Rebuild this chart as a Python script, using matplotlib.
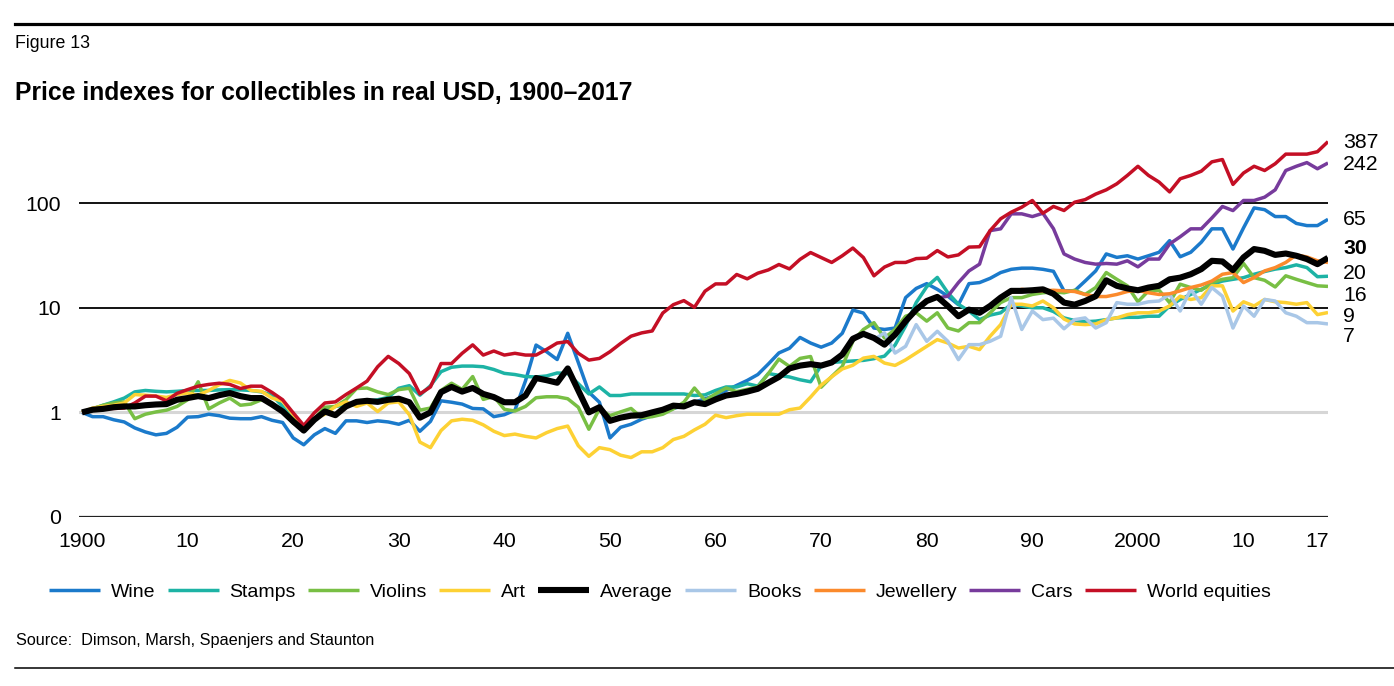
import numpy as np
import matplotlib
matplotlib.use("Agg")
import matplotlib.pyplot as plt
from matplotlib import font_manager
from matplotlib.lines import Line2D
from matplotlib.ticker import NullLocator

# ==================================================================
# Data: real USD price index at each year end (end-1899 = 1)
# ==================================================================
first_year = 1899
last_year = 2017

wine = [
    1.00, 0.91, 0.91, 0.85, 0.81, 0.71, 0.65, 0.61, 0.63, 0.72,
    0.90, 0.91, 0.96, 0.93, 0.88, 0.87, 0.87, 0.91, 0.84, 0.80,
    0.57, 0.49, 0.61, 0.70, 0.63, 0.83, 0.83, 0.80, 0.83, 0.81,
    0.77, 0.84, 0.66, 0.82, 1.29, 1.25, 1.20, 1.09, 1.08, 0.91,
    0.95, 1.05, 2.00, 4.40, 3.80, 3.20, 5.70, 3.00, 1.56, 1.25,
    0.57, 0.72, 0.77, 0.86, 0.93, 1.02, 1.09, 1.16, 1.25, 1.35,
    1.45, 1.62, 1.81, 2.02, 2.30, 2.90, 3.70, 4.10, 5.20, 4.60,
    4.20, 4.60, 5.70, 9.50, 8.90, 6.40, 6.20, 6.40, 12.5, 15.3,
    17.0, 15.0, 12.9, 10.7, 17.0, 17.4, 19.1, 21.7, 23.3, 23.9,
    23.9, 23.3, 22.3, 14.5, 14.5, 18.0, 22.5, 32.7, 30.3, 31.4,
    29.2, 31.4, 33.9, 43.8, 30.7, 33.9, 42.3, 56.8, 56.8, 36.4,
    58.0, 90.0, 86.6, 74.4, 74.4, 64.0, 61.0, 61.0, 70.0,
]
stamps = [
    1.00, 1.08, 1.17, 1.26, 1.37, 1.57, 1.62, 1.59, 1.57, 1.59,
    1.62, 1.62, 1.62, 1.64, 1.65, 1.64, 1.62, 1.57, 1.46, 1.14,
    0.87, 0.68, 0.87, 1.06, 1.14, 1.18, 1.23, 1.28, 1.32, 1.39,
    1.70, 1.80, 1.46, 1.80, 2.45, 2.70, 2.77, 2.77, 2.73, 2.57,
    2.36, 2.30, 2.20, 2.18, 2.23, 2.38, 2.35, 1.88, 1.50, 1.75,
    1.45, 1.45, 1.50, 1.50, 1.50, 1.50, 1.50, 1.50, 1.45, 1.47,
    1.62, 1.75, 1.75, 1.88, 1.78, 2.35, 2.26, 2.18, 2.05, 1.96,
    2.80, 3.00, 3.05, 3.10, 3.14, 3.26, 3.45, 4.40, 6.70, 11.2,
    15.9, 19.5, 13.9, 10.8, 9.30, 7.70, 8.50, 8.95, 10.8, 10.4,
    10.0, 10.0, 9.20, 8.00, 7.55, 7.35, 7.45, 7.70, 8.00, 8.10,
    8.10, 8.30, 8.30, 10.4, 12.0, 13.4, 15.0, 16.7, 18.0, 18.7,
    19.4, 20.9, 22.2, 23.4, 24.2, 25.7, 24.2, 19.8, 20.0,
]
violins = [
    1.00, 1.08, 1.17, 1.23, 1.26, 0.87, 0.96, 1.01, 1.05, 1.14,
    1.32, 1.96, 1.08, 1.23, 1.37, 1.17, 1.20, 1.32, 1.23, 1.02,
    0.79, 0.70, 0.87, 1.12, 1.14, 1.32, 1.69, 1.71, 1.57, 1.48,
    1.65, 1.70, 1.05, 1.10, 1.62, 1.90, 1.66, 2.20, 1.33, 1.42,
    1.07, 1.03, 1.14, 1.38, 1.41, 1.41, 1.35, 1.12, 0.69, 1.08,
    0.93, 1.01, 1.09, 0.89, 0.91, 0.96, 1.08, 1.25, 1.71, 1.30,
    1.50, 1.71, 1.58, 1.66, 1.75, 2.35, 3.23, 2.75, 3.28, 3.42,
    1.74, 2.20, 2.75, 4.78, 6.20, 7.20, 5.14, 6.20, 8.30, 8.95,
    7.45, 8.95, 6.40, 6.00, 7.20, 7.20, 8.95, 11.2, 12.5, 12.5,
    13.4, 13.9, 14.2, 13.9, 14.7, 13.4, 15.6, 21.7, 18.7, 16.2,
    11.4, 14.5, 14.7, 11.2, 16.8, 15.6, 14.7, 17.4, 18.7, 19.4,
    26.5, 19.4, 18.3, 15.8, 20.2, 18.7, 17.4, 16.2, 16.0,
]
art = [
    1.00, 1.10, 1.14, 1.17, 1.23, 1.48, 1.46, 1.43, 1.39, 1.48,
    1.53, 1.46, 1.62, 1.84, 2.02, 1.91, 1.62, 1.59, 1.37, 1.28,
    0.95, 0.73, 0.87, 0.96, 1.14, 1.26, 1.14, 1.23, 1.02, 1.23,
    1.26, 0.95, 0.52, 0.46, 0.67, 0.83, 0.86, 0.84, 0.76, 0.66,
    0.60, 0.62, 0.59, 0.57, 0.64, 0.70, 0.74, 0.48, 0.38, 0.46,
    0.44, 0.39, 0.37, 0.42, 0.42, 0.46, 0.55, 0.59, 0.68, 0.77,
    0.94, 0.89, 0.93, 0.96, 0.96, 0.96, 0.96, 1.06, 1.10, 1.40,
    1.82, 2.19, 2.60, 2.82, 3.30, 3.43, 2.96, 2.81, 3.18, 3.69,
    4.28, 4.96, 4.60, 4.12, 4.28, 3.98, 5.34, 6.90, 10.8, 10.8,
    10.4, 11.6, 10.0, 7.80, 7.00, 6.90, 7.00, 7.70, 8.00, 8.60,
    8.95, 8.95, 9.30, 10.4, 12.9, 12.0, 12.5, 16.2, 16.2, 9.30,
    11.4, 10.4, 12.0, 11.4, 11.2, 10.8, 11.2, 8.60, 9.00,
]
average = [
    1.00, 1.06, 1.08, 1.12, 1.14, 1.14, 1.17, 1.19, 1.20, 1.32,
    1.37, 1.43, 1.37, 1.46, 1.53, 1.43, 1.37, 1.37, 1.19, 1.02,
    0.82, 0.67, 0.85, 1.02, 0.94, 1.14, 1.26, 1.29, 1.26, 1.32,
    1.35, 1.25, 0.89, 1.00, 1.56, 1.75, 1.58, 1.71, 1.50, 1.40,
    1.25, 1.25, 1.45, 2.13, 2.03, 1.92, 2.63, 1.62, 1.00, 1.12,
    0.83, 0.89, 0.93, 0.94, 1.00, 1.06, 1.16, 1.14, 1.25, 1.20,
    1.33, 1.45, 1.50, 1.58, 1.68, 1.92, 2.18, 2.63, 2.80, 2.89,
    2.80, 3.00, 3.57, 5.05, 5.63, 5.14, 4.44, 5.54, 7.45, 9.60,
    11.6, 12.7, 10.4, 8.30, 9.60, 8.95, 10.4, 12.5, 14.5, 14.5,
    14.7, 15.0, 13.6, 11.2, 10.7, 11.6, 12.9, 18.3, 16.2, 15.3,
    14.7, 15.6, 16.2, 18.7, 19.4, 20.9, 23.4, 28.1, 27.7, 22.9,
    30.3, 36.4, 35.0, 32.0, 33.0, 31.4, 29.2, 26.1, 30.0,
]
equities = [
    1.00, 1.06, 1.08, 1.09, 1.10, 1.23, 1.43, 1.43, 1.29, 1.52,
    1.65, 1.78, 1.85, 1.90, 1.85, 1.69, 1.78, 1.78, 1.55, 1.32,
    0.99, 0.75, 0.99, 1.23, 1.26, 1.48, 1.71, 1.99, 2.73, 3.43,
    2.93, 2.35, 1.50, 1.75, 2.93, 2.93, 3.67, 4.42, 3.53, 3.86,
    3.53, 3.67, 3.53, 3.53, 4.00, 4.60, 4.75, 3.67, 3.16, 3.28,
    3.80, 4.55, 5.35, 5.75, 6.00, 8.90, 10.7, 11.7, 10.1, 14.4,
    16.9, 16.9, 20.8, 18.9, 21.4, 23.0, 25.9, 23.5, 29.0, 33.7,
    30.2, 27.1, 31.4, 37.2, 30.2, 20.2, 24.5, 27.1, 27.1, 29.5,
    29.8, 35.2, 30.6, 32.0, 38.0, 38.3, 54.6, 70.9, 81.9, 91.5,
    106, 80, 93, 85, 102, 108, 122, 134, 153, 184,
    225, 184, 159, 128, 171, 184, 202, 248, 261, 151,
    194, 225, 205, 238, 294, 294, 294, 310, 387,
]
# shorter histories
books_from = 1974
books = [
    4.96, 5.75, 3.69, 4.28, 6.90, 4.78, 5.96, 4.78, 3.19, 4.44,
    4.44, 4.78, 5.34, 12.5, 6.20, 9.30, 7.70, 7.95, 6.30, 7.70,
    8.00, 6.40, 7.20, 11.2, 10.8, 10.8, 11.4, 11.6, 13.4, 9.30,
    15.0, 10.8, 15.6, 12.9, 6.40, 10.4, 8.30, 12.0, 11.6, 8.95,
    8.30, 7.20, 7.20, 7.00,
]
jewellery_from = 1986
jewellery = [
    12.7, 14.0, 15.0, 14.5, 14.5, 14.7,
    14.5, 14.3, 13.4, 12.8, 12.8, 13.4, 14.3,
    14.7, 13.9, 13.4, 13.6, 14.5, 15.6, 16.5, 18.0, 20.9, 21.7,
    17.4, 19.4, 22.5, 24.2, 27.1, 32.0, 30.6, 28.1, 27.1,
]
cars_from = 1980
cars = [
    12.4, 12.9, 17.4, 22.5, 26.1, 54.6, 56.8, 79.0, 79.0,
    74.4, 80.0, 57.0, 32.7, 29.2, 27.1, 26.1, 26.5, 26.1, 28.1,
    24.6, 29.2, 29.2, 40.7, 47.7, 56.8, 56.8, 72.1, 92.9, 84.9,
    106, 106, 114, 134, 205, 225, 244, 213, 242,
]

series_names = ['Wine', 'Stamps', 'Violins', 'Art', 'Average',
                'Books', 'Jewellery', 'Cars', 'World equities']
end_labels = ['387', '242', '65', '30', '20', '16', '9', '7']

x_ticks = [1900, 1910, 1920, 1930, 1940, 1950, 1960, 1970, 1980, 1990,
           2000, 2010, 2017]
x_ticklabels = ['1900', '10', '20', '30', '40', '50', '60', '70', '80', '90',
                '2000', '10', '17']
y_ticks = [0.1, 1, 10, 100]
y_ticklabels = ['0', '1', '10', '100']

# ==================================================================
# Style
# ==================================================================
colors = {
    'Wine': '#1b7acb',
    'Stamps': '#1db3a5',
    'Violins': '#78bf44',
    'Art': '#fdd134',
    'Average': '#000000',
    'Books': '#a9c7e7',
    'Jewellery': '#fb8a2c',
    'Cars': '#773b9c',
    'World equities': '#c40f25',
}

names = {f.name for f in font_manager.fontManager.ttflist}
if 'Liberation Sans Narrow' in names:
    FONT, k = 'Liberation Sans Narrow', 1 / 0.82
else:
    FONT, k = 'Liberation Sans', 1.0
plt.rcParams['font.family'] = [FONT, 'DejaVu Sans']

fs_fig, fs_title, fs_tick = 12.8 * k, 17.8 * k, 15.3 * k
fs_leg, fs_src = 14.0 * k, 11.7 * k

W, H = 1394, 686
fig = plt.figure(figsize=(W / 100, H / 100), dpi=100)
ax = fig.add_axes([79 / W, 169 / H, 1249 / W, 387 / H])

# grid lines
for yv in (100, 10):
    ax.axhline(yv, color='black', lw=1.3, zorder=1)
ax.axhline(1, color='#d6d6d6', lw=2.2, zorder=1)
ax.axhline(0.1, color='#222222', lw=1.6, zorder=1)

data = [
    ('Wine', wine, first_year), ('Stamps', stamps, first_year),
    ('Violins', violins, first_year), ('Art', art, first_year),
    ('Average', average, first_year), ('Books', books, books_from),
    ('Jewellery', jewellery, jewellery_from), ('Cars', cars, cars_from),
    ('World equities', equities, first_year),
]
handles = []
for name, vals, start in data:
    x = np.arange(start, start + len(vals)) + 1   # plotted at year end
    lw = 4.4 if name == 'Average' else 2.5
    z = 4 if name == 'Average' else 3
    ln, = ax.plot(x, vals, color=colors[name], lw=lw, zorder=z,
                  solid_capstyle='butt')
    handles.append(ln)

ax.set_yscale('log')
ax.set_ylim(0.1, 500)
ax.set_xlim(1900 - 3 / 10.56, 2018)
ax.yaxis.set_minor_locator(NullLocator())
ax.set_yticks(y_ticks, y_ticklabels)
ax.set_xticks(x_ticks, x_ticklabels)
ax.tick_params(axis='both', length=0, labelsize=fs_tick)
ax.tick_params(axis='y', pad=13)
ax.tick_params(axis='x', pad=11)
for s in ax.spines.values():
    s.set_visible(False)

# end-value labels to the right of the lines
label_y = [143, 164, 220, 249, 274, 295, 316, 336]
for txt, py in zip(end_labels, label_y):
    fig.text(1343 / W, 1 - py / H, txt, fontsize=fs_tick, va='center',
             ha='left', fontweight='bold' if txt == '30' else 'normal')

# legend
fs_px = fs_leg * 100 / 72
fig.legend(handles, series_names, loc='center left',
           bbox_to_anchor=(49 / W, 1 - 592 / H), ncol=9, frameon=False,
           fontsize=fs_leg, handlelength=51 / fs_px, handletextpad=11 / fs_px,
           columnspacing=12 / fs_px, borderpad=0, borderaxespad=0)

# titles, source and rules
fig.text(15 / W, 1 - 44 / H, 'Figure 13', fontsize=fs_fig, va='center')
fig.text(15 / W, 1 - 93 / H, 'Price indexes for collectibles in real USD, 1900\u20132017',
         fontsize=fs_title, fontweight='bold', va='center')
fig.text(16 / W, 1 - 641 / H, 'Source:  Dimson, Marsh, Spaenjers and Staunton',
         fontsize=fs_src, va='center')
fig.add_artist(Line2D([15 / W, 1], [1 - 24 / H] * 2, color='black', lw=2.3,
                      transform=fig.transFigure))
fig.add_artist(Line2D([15 / W, 1], [1 - 668 / H] * 2, color='black', lw=1.1,
                      transform=fig.transFigure))

fig.savefig('out.png', dpi=100)
